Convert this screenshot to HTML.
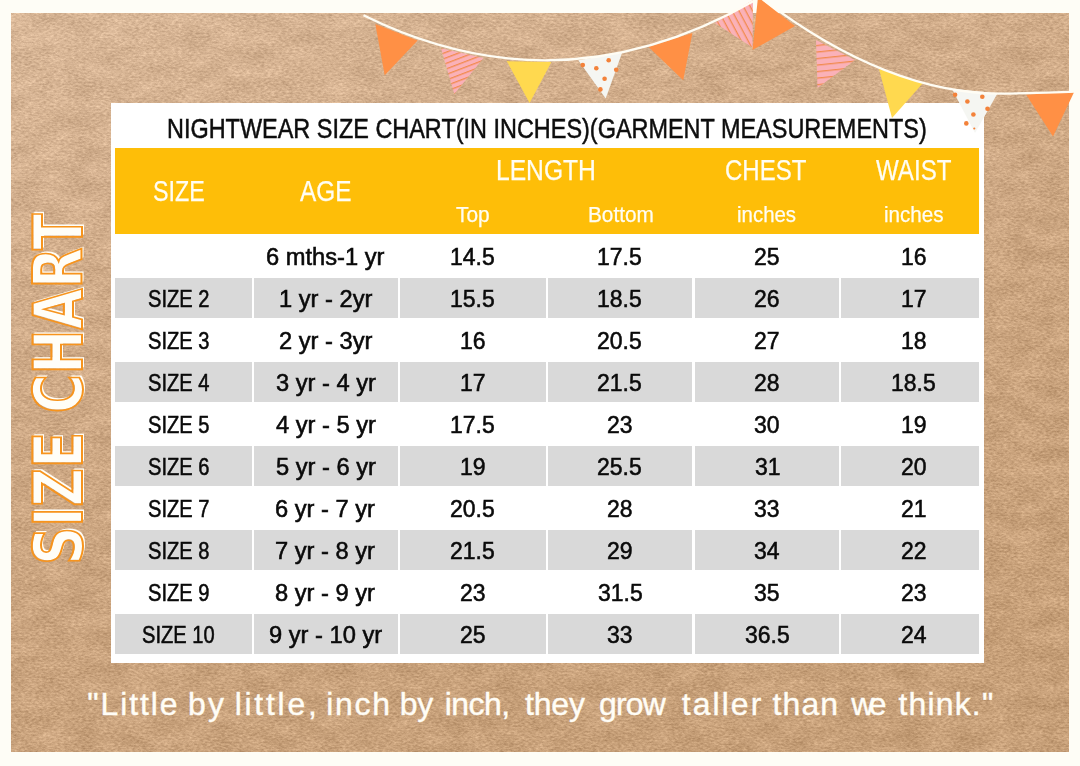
<!DOCTYPE html>
<html lang="en">
<head>
<meta charset="utf-8">
<title>Nightwear Size Chart</title>
<style>
html,body{margin:0;padding:0}
body{width:1080px;height:766px;overflow:hidden;position:relative;background:#fefdf6;font-family:"Liberation Sans",sans-serif}
.kraft{position:absolute;left:11px;top:13px;width:1058px;height:739px;background:#d6b28d;overflow:hidden}
.kraft svg{position:absolute;left:0;top:0;width:100%;height:100%;display:block}
.card{position:absolute;left:111.3px;top:103px;width:872.7px;height:559.5px;background:#fff}
.hdr{position:absolute;top:147.5px;left:114.8px;width:864.7px;height:86.5px;background:#febe08}
.g{position:absolute;height:40px;background:#d9d9d9}
.t{position:absolute;white-space:pre;line-height:1;transform-origin:0 0;font-family:"Liberation Sans",sans-serif}
.bunting{position:absolute;left:0;top:0;width:1080px;height:160px;overflow:visible}
.side{position:absolute;white-space:pre;line-height:1;font-family:"DejaVu Sans","Liberation Sans",sans-serif;font-weight:bold;color:transparent;
  transform-origin:0 0;-webkit-text-stroke:2px #f7941d;text-shadow:1.3px 1px 0 #fffef8,2.6px 2px 0 #fffef8}
.q{margin:0}
</style>
</head>
<body>
<div class="kraft">
<svg width="1058" height="739" viewBox="0 0 1058 739" preserveAspectRatio="none">
<defs>
<linearGradient id="kg" x1="0.15" y1="0" x2="0.6" y2="1">
<stop offset="0" stop-color="#d7b595"/>
<stop offset="0.22" stop-color="#d2ae8c"/>
<stop offset="0.6" stop-color="#cba580"/>
<stop offset="1" stop-color="#c7a079"/>
</linearGradient>
<filter id="paper" x="0" y="0" width="100%" height="100%" color-interpolation-filters="sRGB">
<feTurbulence type="fractalNoise" baseFrequency="0.28 0.55" numOctaves="4" seed="7" result="n"/>
<feColorMatrix in="n" type="matrix" values="1 0 0 0 0  1 0 0 0 0  0.95 0 0 0 0.025  0 0 0 0 1" result="g"/>
<feComposite in="SourceGraphic" in2="g" operator="arithmetic" k1="0" k2="1" k3="0.24" k4="-0.12" result="s1"/>
<feTurbulence type="fractalNoise" baseFrequency="0.035 0.06" numOctaves="3" seed="11" result="m"/>
<feColorMatrix in="m" type="matrix" values="1 0 0 0 0  1 0 0 0 0  1 0 0 0 0  0 0 0 0 1" result="mg"/>
<feComposite in="s1" in2="mg" operator="arithmetic" k1="0" k2="1" k3="0.11" k4="-0.055"/>
</filter>
</defs>
<rect width="1058" height="739" fill="url(#kg)" filter="url(#paper)"/>
</svg>
</div>
<div class="card"></div>
<div class="hdr"></div>
<div class="g" style="left:114.8px;top:278px;width:137.1px"></div>
<div class="g" style="left:254px;top:278px;width:144.0px"></div>
<div class="g" style="left:400.4px;top:278px;width:145.2px"></div>
<div class="g" style="left:547.8px;top:278px;width:144.5px"></div>
<div class="g" style="left:694.5px;top:278px;width:144.7px"></div>
<div class="g" style="left:841.4px;top:278px;width:138.1px"></div>
<div class="g" style="left:114.8px;top:362px;width:137.1px"></div>
<div class="g" style="left:254px;top:362px;width:144.0px"></div>
<div class="g" style="left:400.4px;top:362px;width:145.2px"></div>
<div class="g" style="left:547.8px;top:362px;width:144.5px"></div>
<div class="g" style="left:694.5px;top:362px;width:144.7px"></div>
<div class="g" style="left:841.4px;top:362px;width:138.1px"></div>
<div class="g" style="left:114.8px;top:446px;width:137.1px"></div>
<div class="g" style="left:254px;top:446px;width:144.0px"></div>
<div class="g" style="left:400.4px;top:446px;width:145.2px"></div>
<div class="g" style="left:547.8px;top:446px;width:144.5px"></div>
<div class="g" style="left:694.5px;top:446px;width:144.7px"></div>
<div class="g" style="left:841.4px;top:446px;width:138.1px"></div>
<div class="g" style="left:114.8px;top:530px;width:137.1px"></div>
<div class="g" style="left:254px;top:530px;width:144.0px"></div>
<div class="g" style="left:400.4px;top:530px;width:145.2px"></div>
<div class="g" style="left:547.8px;top:530px;width:144.5px"></div>
<div class="g" style="left:694.5px;top:530px;width:144.7px"></div>
<div class="g" style="left:841.4px;top:530px;width:138.1px"></div>
<div class="g" style="left:114.8px;top:614px;width:137.1px"></div>
<div class="g" style="left:254px;top:614px;width:144.0px"></div>
<div class="g" style="left:400.4px;top:614px;width:145.2px"></div>
<div class="g" style="left:547.8px;top:614px;width:144.5px"></div>
<div class="g" style="left:694.5px;top:614px;width:144.7px"></div>
<div class="g" style="left:841.4px;top:614px;width:138.1px"></div><svg class="bunting" width="1080" height="160" viewBox="0 0 1080 160">
<defs>
<pattern id="st1" width="5.2" height="5.2" patternUnits="userSpaceOnUse" patternTransform="rotate(-21)"><rect width="5.2" height="5.2" fill="#fab1b8"/><rect width="5.2" height="1.3" fill="#f28b50"/></pattern>
<pattern id="st2" width="6" height="6" patternUnits="userSpaceOnUse" patternTransform="rotate(62)"><rect width="6" height="6" fill="#fab1b8"/><rect width="6" height="1.3" fill="#f28b50"/></pattern>
<pattern id="st3" width="6.5" height="6.5" patternUnits="userSpaceOnUse" patternTransform="rotate(-6)"><rect width="6.5" height="6.5" fill="#fab1b8"/><rect width="6.5" height="1.3" fill="#f28b50"/></pattern>
</defs>
<!-- garland 1 -->
<polygon points="375.3,24.1 417.6,40.5 384.7,75.2" fill="#ff9045"/>
<polygon points="441,48.3 483.5,57.9 454.3,94" fill="url(#st1)"/>
<polygon points="506.7,61.1 551.4,62.1 529.6,102.9" fill="#ffd94f"/>
<polygon points="578.3,60.3 622.1,52.8 605.7,98.5" fill="#f5f6f2"/><circle cx="582.8" cy="65.1" r="2.3" fill="#f3823a"/><circle cx="596.3" cy="68.3" r="2.3" fill="#f3823a"/><circle cx="608.7" cy="60.3" r="2.3" fill="#f3823a"/><circle cx="616.2" cy="69.7" r="2.3" fill="#f3823a"/><circle cx="604.6" cy="78.8" r="2.3" fill="#f3823a"/><circle cx="600.4" cy="89.4" r="2.3" fill="#f3823a"/>
<polygon points="648.6,47.1 692.4,32.9 683.2,80.2" fill="#ff9045"/>
<polygon points="715,23 753,0 752.5,47.5" fill="url(#st2)"/>
<path d="M363.5,15.3 Q559.75,112.5 756,-0.3" fill="none" stroke="#fffdf4" stroke-width="2.3"/>
<!-- garland 2 -->
<polygon points="758,-3 795,26 752.5,50" fill="#ff9045"/>
<polygon points="816,40 855,60 817.5,88" fill="url(#st3)"/>
<polygon points="879,69 923,83 892,118" fill="#ffd94f"/>
<polygon points="951.9,88.7 997.6,93.3 975,133" fill="#f5f6f2"/><circle cx="955.1" cy="94.7" r="2.3" fill="#f3823a"/><circle cx="967.4" cy="101.5" r="2.3" fill="#f3823a"/><circle cx="982.3" cy="96.7" r="2.3" fill="#f3823a"/><circle cx="987.5" cy="108.8" r="2.3" fill="#f3823a"/><circle cx="973.4" cy="114.5" r="2.3" fill="#f3823a"/><circle cx="966.3" cy="123.4" r="2.3" fill="#f3823a"/><circle cx="974.3" cy="128.5" r="1.1" fill="#f3823a"/>
<polygon points="1026.2,94.8 1074.5,91.3 1053,136.6" fill="#ff9045"/>
<path d="M760,-3 Q890,97 1010,93.6 T1076,90.3" fill="none" stroke="#fffdf4" stroke-width="2.3"/>
</svg>
<span class="t" style="left:166.78px;top:115.17px;font-size:27.33px;color:#0d0d0d;transform:scaleX(0.8578);-webkit-text-stroke:0.5px #0d0d0d;">NIGHTWEAR SIZE CHART(IN INCHES)(GARMENT MEASUREMENTS)</span>
<span class="t" style="left:152.69px;top:176.94px;font-size:28.78px;color:#fffdf3;transform:scaleX(0.8097);-webkit-text-stroke:0.25px #fffdf3;">SIZE</span>
<span class="t" style="left:300.00px;top:176.94px;font-size:28.78px;color:#fffdf3;transform:scaleX(0.8479);-webkit-text-stroke:0.25px #fffdf3;">AGE</span>
<span class="t" style="left:496.39px;top:156.14px;font-size:28.78px;color:#fffdf3;transform:scaleX(0.8560);-webkit-text-stroke:0.25px #fffdf3;">LENGTH</span>
<span class="t" style="left:725.42px;top:155.94px;font-size:28.78px;color:#fffdf3;transform:scaleX(0.8340);-webkit-text-stroke:0.25px #fffdf3;">CHEST</span>
<span class="t" style="left:876.25px;top:155.94px;font-size:28.78px;color:#fffdf3;transform:scaleX(0.8385);-webkit-text-stroke:0.25px #fffdf3;">WAIST</span>
<span class="t" style="left:456.25px;top:203.84px;font-size:21.80px;color:#fffdf3;transform:scaleX(0.9566);-webkit-text-stroke:0.25px #fffdf3;">Top</span>
<span class="t" style="left:587.80px;top:203.84px;font-size:21.80px;color:#fffdf3;transform:scaleX(0.9530);-webkit-text-stroke:0.25px #fffdf3;">Bottom</span>
<span class="t" style="left:737.06px;top:203.94px;font-size:21.80px;color:#fffdf3;transform:scaleX(0.9379);-webkit-text-stroke:0.25px #fffdf3;">inches</span>
<span class="t" style="left:884.05px;top:203.94px;font-size:21.80px;color:#fffdf3;transform:scaleX(0.9459);-webkit-text-stroke:0.25px #fffdf3;">inches</span>
<span class="t" style="left:266.25px;top:245.97px;font-size:23.55px;color:#0a0a0a;-webkit-text-stroke:0.55px #0a0a0a;transform:scaleX(1.0055)">6 mths-1 yr</span>
<span class="t" style="left:450.22px;top:245.97px;font-size:23.55px;color:#0a0a0a;-webkit-text-stroke:0.55px #0a0a0a;transform:scaleX(0.9751)">14.5</span>
<span class="t" style="left:597.22px;top:245.97px;font-size:23.55px;color:#0a0a0a;-webkit-text-stroke:0.55px #0a0a0a;transform:scaleX(0.9751)">17.5</span>
<span class="t" style="left:753.79px;top:245.97px;font-size:23.55px;color:#0a0a0a;-webkit-text-stroke:0.55px #0a0a0a;transform:scaleX(0.9751)">25</span>
<span class="t" style="left:900.79px;top:245.97px;font-size:23.55px;color:#0a0a0a;-webkit-text-stroke:0.55px #0a0a0a;transform:scaleX(0.9751)">16</span>
<span class="t" style="left:148.35px;top:287.97px;font-size:23.55px;color:#0a0a0a;-webkit-text-stroke:0.55px #0a0a0a;transform:scaleX(0.8534)">SIZE 2</span>
<span class="t" style="left:278.74px;top:287.97px;font-size:23.55px;color:#0a0a0a;-webkit-text-stroke:0.55px #0a0a0a;transform:scaleX(1.0055)">1 yr - 2yr</span>
<span class="t" style="left:450.22px;top:287.97px;font-size:23.55px;color:#0a0a0a;-webkit-text-stroke:0.55px #0a0a0a;transform:scaleX(0.9751)">15.5</span>
<span class="t" style="left:597.22px;top:287.97px;font-size:23.55px;color:#0a0a0a;-webkit-text-stroke:0.55px #0a0a0a;transform:scaleX(0.9751)">18.5</span>
<span class="t" style="left:753.79px;top:287.97px;font-size:23.55px;color:#0a0a0a;-webkit-text-stroke:0.55px #0a0a0a;transform:scaleX(0.9751)">26</span>
<span class="t" style="left:901.28px;top:287.97px;font-size:23.55px;color:#0a0a0a;-webkit-text-stroke:0.55px #0a0a0a;transform:scaleX(0.9751)">17</span>
<span class="t" style="left:147.92px;top:329.97px;font-size:23.55px;color:#0a0a0a;-webkit-text-stroke:0.55px #0a0a0a;transform:scaleX(0.8534)">SIZE 3</span>
<span class="t" style="left:278.74px;top:329.97px;font-size:23.55px;color:#0a0a0a;-webkit-text-stroke:0.55px #0a0a0a;transform:scaleX(1.0055)">2 yr - 3yr</span>
<span class="t" style="left:459.79px;top:329.97px;font-size:23.55px;color:#0a0a0a;-webkit-text-stroke:0.55px #0a0a0a;transform:scaleX(0.9751)">16</span>
<span class="t" style="left:597.22px;top:329.97px;font-size:23.55px;color:#0a0a0a;-webkit-text-stroke:0.55px #0a0a0a;transform:scaleX(0.9751)">20.5</span>
<span class="t" style="left:754.28px;top:329.97px;font-size:23.55px;color:#0a0a0a;-webkit-text-stroke:0.55px #0a0a0a;transform:scaleX(0.9751)">27</span>
<span class="t" style="left:900.79px;top:329.97px;font-size:23.55px;color:#0a0a0a;-webkit-text-stroke:0.55px #0a0a0a;transform:scaleX(0.9751)">18</span>
<span class="t" style="left:147.92px;top:371.97px;font-size:23.55px;color:#0a0a0a;-webkit-text-stroke:0.55px #0a0a0a;transform:scaleX(0.8534)">SIZE 4</span>
<span class="t" style="left:275.96px;top:371.97px;font-size:23.55px;color:#0a0a0a;-webkit-text-stroke:0.55px #0a0a0a;transform:scaleX(1.0055)">3 yr - 4 yr</span>
<span class="t" style="left:460.28px;top:371.97px;font-size:23.55px;color:#0a0a0a;-webkit-text-stroke:0.55px #0a0a0a;transform:scaleX(0.9751)">17</span>
<span class="t" style="left:597.22px;top:371.97px;font-size:23.55px;color:#0a0a0a;-webkit-text-stroke:0.55px #0a0a0a;transform:scaleX(0.9751)">21.5</span>
<span class="t" style="left:753.79px;top:371.97px;font-size:23.55px;color:#0a0a0a;-webkit-text-stroke:0.55px #0a0a0a;transform:scaleX(0.9751)">28</span>
<span class="t" style="left:891.22px;top:371.97px;font-size:23.55px;color:#0a0a0a;-webkit-text-stroke:0.55px #0a0a0a;transform:scaleX(0.9751)">18.5</span>
<span class="t" style="left:147.92px;top:413.97px;font-size:23.55px;color:#0a0a0a;-webkit-text-stroke:0.55px #0a0a0a;transform:scaleX(0.8534)">SIZE 5</span>
<span class="t" style="left:275.96px;top:413.97px;font-size:23.55px;color:#0a0a0a;-webkit-text-stroke:0.55px #0a0a0a;transform:scaleX(1.0055)">4 yr - 5 yr</span>
<span class="t" style="left:450.22px;top:413.97px;font-size:23.55px;color:#0a0a0a;-webkit-text-stroke:0.55px #0a0a0a;transform:scaleX(0.9751)">17.5</span>
<span class="t" style="left:606.79px;top:413.97px;font-size:23.55px;color:#0a0a0a;-webkit-text-stroke:0.55px #0a0a0a;transform:scaleX(0.9751)">23</span>
<span class="t" style="left:754.28px;top:413.97px;font-size:23.55px;color:#0a0a0a;-webkit-text-stroke:0.55px #0a0a0a;transform:scaleX(0.9751)">30</span>
<span class="t" style="left:901.28px;top:413.97px;font-size:23.55px;color:#0a0a0a;-webkit-text-stroke:0.55px #0a0a0a;transform:scaleX(0.9751)">19</span>
<span class="t" style="left:147.92px;top:455.97px;font-size:23.55px;color:#0a0a0a;-webkit-text-stroke:0.55px #0a0a0a;transform:scaleX(0.8534)">SIZE 6</span>
<span class="t" style="left:275.96px;top:455.97px;font-size:23.55px;color:#0a0a0a;-webkit-text-stroke:0.55px #0a0a0a;transform:scaleX(1.0055)">5 yr - 6 yr</span>
<span class="t" style="left:460.28px;top:455.97px;font-size:23.55px;color:#0a0a0a;-webkit-text-stroke:0.55px #0a0a0a;transform:scaleX(0.9751)">19</span>
<span class="t" style="left:597.22px;top:455.97px;font-size:23.55px;color:#0a0a0a;-webkit-text-stroke:0.55px #0a0a0a;transform:scaleX(0.9751)">25.5</span>
<span class="t" style="left:754.77px;top:455.97px;font-size:23.55px;color:#0a0a0a;-webkit-text-stroke:0.55px #0a0a0a;transform:scaleX(0.9751)">31</span>
<span class="t" style="left:900.79px;top:455.97px;font-size:23.55px;color:#0a0a0a;-webkit-text-stroke:0.55px #0a0a0a;transform:scaleX(0.9751)">20</span>
<span class="t" style="left:148.35px;top:497.97px;font-size:23.55px;color:#0a0a0a;-webkit-text-stroke:0.55px #0a0a0a;transform:scaleX(0.8534)">SIZE 7</span>
<span class="t" style="left:275.46px;top:497.97px;font-size:23.55px;color:#0a0a0a;-webkit-text-stroke:0.55px #0a0a0a;transform:scaleX(1.0055)">6 yr - 7 yr</span>
<span class="t" style="left:450.22px;top:497.97px;font-size:23.55px;color:#0a0a0a;-webkit-text-stroke:0.55px #0a0a0a;transform:scaleX(0.9751)">20.5</span>
<span class="t" style="left:606.79px;top:497.97px;font-size:23.55px;color:#0a0a0a;-webkit-text-stroke:0.55px #0a0a0a;transform:scaleX(0.9751)">28</span>
<span class="t" style="left:754.28px;top:497.97px;font-size:23.55px;color:#0a0a0a;-webkit-text-stroke:0.55px #0a0a0a;transform:scaleX(0.9751)">33</span>
<span class="t" style="left:901.28px;top:497.97px;font-size:23.55px;color:#0a0a0a;-webkit-text-stroke:0.55px #0a0a0a;transform:scaleX(0.9751)">21</span>
<span class="t" style="left:147.92px;top:539.97px;font-size:23.55px;color:#0a0a0a;-webkit-text-stroke:0.55px #0a0a0a;transform:scaleX(0.8534)">SIZE 8</span>
<span class="t" style="left:275.46px;top:539.97px;font-size:23.55px;color:#0a0a0a;-webkit-text-stroke:0.55px #0a0a0a;transform:scaleX(1.0055)">7 yr - 8 yr</span>
<span class="t" style="left:450.22px;top:539.97px;font-size:23.55px;color:#0a0a0a;-webkit-text-stroke:0.55px #0a0a0a;transform:scaleX(0.9751)">21.5</span>
<span class="t" style="left:607.28px;top:539.97px;font-size:23.55px;color:#0a0a0a;-webkit-text-stroke:0.55px #0a0a0a;transform:scaleX(0.9751)">29</span>
<span class="t" style="left:754.28px;top:539.97px;font-size:23.55px;color:#0a0a0a;-webkit-text-stroke:0.55px #0a0a0a;transform:scaleX(0.9751)">34</span>
<span class="t" style="left:901.28px;top:539.97px;font-size:23.55px;color:#0a0a0a;-webkit-text-stroke:0.55px #0a0a0a;transform:scaleX(0.9751)">22</span>
<span class="t" style="left:148.35px;top:581.97px;font-size:23.55px;color:#0a0a0a;-webkit-text-stroke:0.55px #0a0a0a;transform:scaleX(0.8534)">SIZE 9</span>
<span class="t" style="left:275.46px;top:581.97px;font-size:23.55px;color:#0a0a0a;-webkit-text-stroke:0.55px #0a0a0a;transform:scaleX(1.0055)">8 yr - 9 yr</span>
<span class="t" style="left:459.79px;top:581.97px;font-size:23.55px;color:#0a0a0a;-webkit-text-stroke:0.55px #0a0a0a;transform:scaleX(0.9751)">23</span>
<span class="t" style="left:597.71px;top:581.97px;font-size:23.55px;color:#0a0a0a;-webkit-text-stroke:0.55px #0a0a0a;transform:scaleX(0.9751)">31.5</span>
<span class="t" style="left:754.28px;top:581.97px;font-size:23.55px;color:#0a0a0a;-webkit-text-stroke:0.55px #0a0a0a;transform:scaleX(0.9751)">35</span>
<span class="t" style="left:900.79px;top:581.97px;font-size:23.55px;color:#0a0a0a;-webkit-text-stroke:0.55px #0a0a0a;transform:scaleX(0.9751)">23</span>
<span class="t" style="left:142.34px;top:623.97px;font-size:23.55px;color:#0a0a0a;-webkit-text-stroke:0.55px #0a0a0a;transform:scaleX(0.8534)">SIZE 10</span>
<span class="t" style="left:268.88px;top:623.97px;font-size:23.55px;color:#0a0a0a;-webkit-text-stroke:0.55px #0a0a0a;transform:scaleX(1.0055)">9 yr - 10 yr</span>
<span class="t" style="left:459.79px;top:623.97px;font-size:23.55px;color:#0a0a0a;-webkit-text-stroke:0.55px #0a0a0a;transform:scaleX(0.9751)">25</span>
<span class="t" style="left:607.28px;top:623.97px;font-size:23.55px;color:#0a0a0a;-webkit-text-stroke:0.55px #0a0a0a;transform:scaleX(0.9751)">33</span>
<span class="t" style="left:744.71px;top:623.97px;font-size:23.55px;color:#0a0a0a;-webkit-text-stroke:0.55px #0a0a0a;transform:scaleX(0.9751)">36.5</span>
<span class="t" style="left:900.79px;top:623.97px;font-size:23.55px;color:#0a0a0a;-webkit-text-stroke:0.55px #0a0a0a;transform:scaleX(0.9751)">24</span><p class="q"><span class="t" style="left:87.30px;top:687.91px;font-size:32.00px;color:#fffdf6;letter-spacing:1.87px;-webkit-text-stroke:0.4px #fffdf6;">"Little</span> <span class="t" style="left:188.00px;top:687.91px;font-size:32.00px;color:#fffdf6;letter-spacing:2.20px;-webkit-text-stroke:0.4px #fffdf6;">by</span> <span class="t" style="left:234.70px;top:687.91px;font-size:32.00px;color:#fffdf6;letter-spacing:2.73px;-webkit-text-stroke:0.4px #fffdf6;">little,</span> <span class="t" style="left:326.30px;top:687.91px;font-size:32.00px;color:#fffdf6;letter-spacing:1.70px;-webkit-text-stroke:0.4px #fffdf6;">inch</span> <span class="t" style="left:399.70px;top:687.91px;font-size:32.00px;color:#fffdf6;letter-spacing:-0.20px;-webkit-text-stroke:0.4px #fffdf6;">by</span> <span class="t" style="left:444.70px;top:687.91px;font-size:32.00px;color:#fffdf6;letter-spacing:-0.53px;-webkit-text-stroke:0.4px #fffdf6;">inch,</span> <span class="t" style="left:525.00px;top:687.91px;font-size:32.00px;color:#fffdf6;letter-spacing:-0.16px;-webkit-text-stroke:0.4px #fffdf6;">they</span> <span class="t" style="left:599.00px;top:687.91px;font-size:32.00px;color:#fffdf6;letter-spacing:-0.85px;-webkit-text-stroke:0.4px #fffdf6;">grow</span> <span class="t" style="left:681.70px;top:687.91px;font-size:32.00px;color:#fffdf6;letter-spacing:2.06px;-webkit-text-stroke:0.4px #fffdf6;">taller</span> <span class="t" style="left:772.60px;top:687.91px;font-size:32.00px;color:#fffdf6;letter-spacing:1.07px;-webkit-text-stroke:0.4px #fffdf6;">than</span> <span class="t" style="left:851.20px;top:687.91px;font-size:32.00px;color:#fffdf6;letter-spacing:-5.51px;-webkit-text-stroke:0.4px #fffdf6;">we</span> <span class="t" style="left:898.50px;top:687.91px;font-size:32.00px;color:#fffdf6;letter-spacing:1.15px;-webkit-text-stroke:0.4px #fffdf6;">think."</span></p><span class="side" style="left:25.2px;top:564.6px;font-size:68px;transform:rotate(-90deg) scaleX(0.783)">SIZE CHART</span>
</body>
</html>
